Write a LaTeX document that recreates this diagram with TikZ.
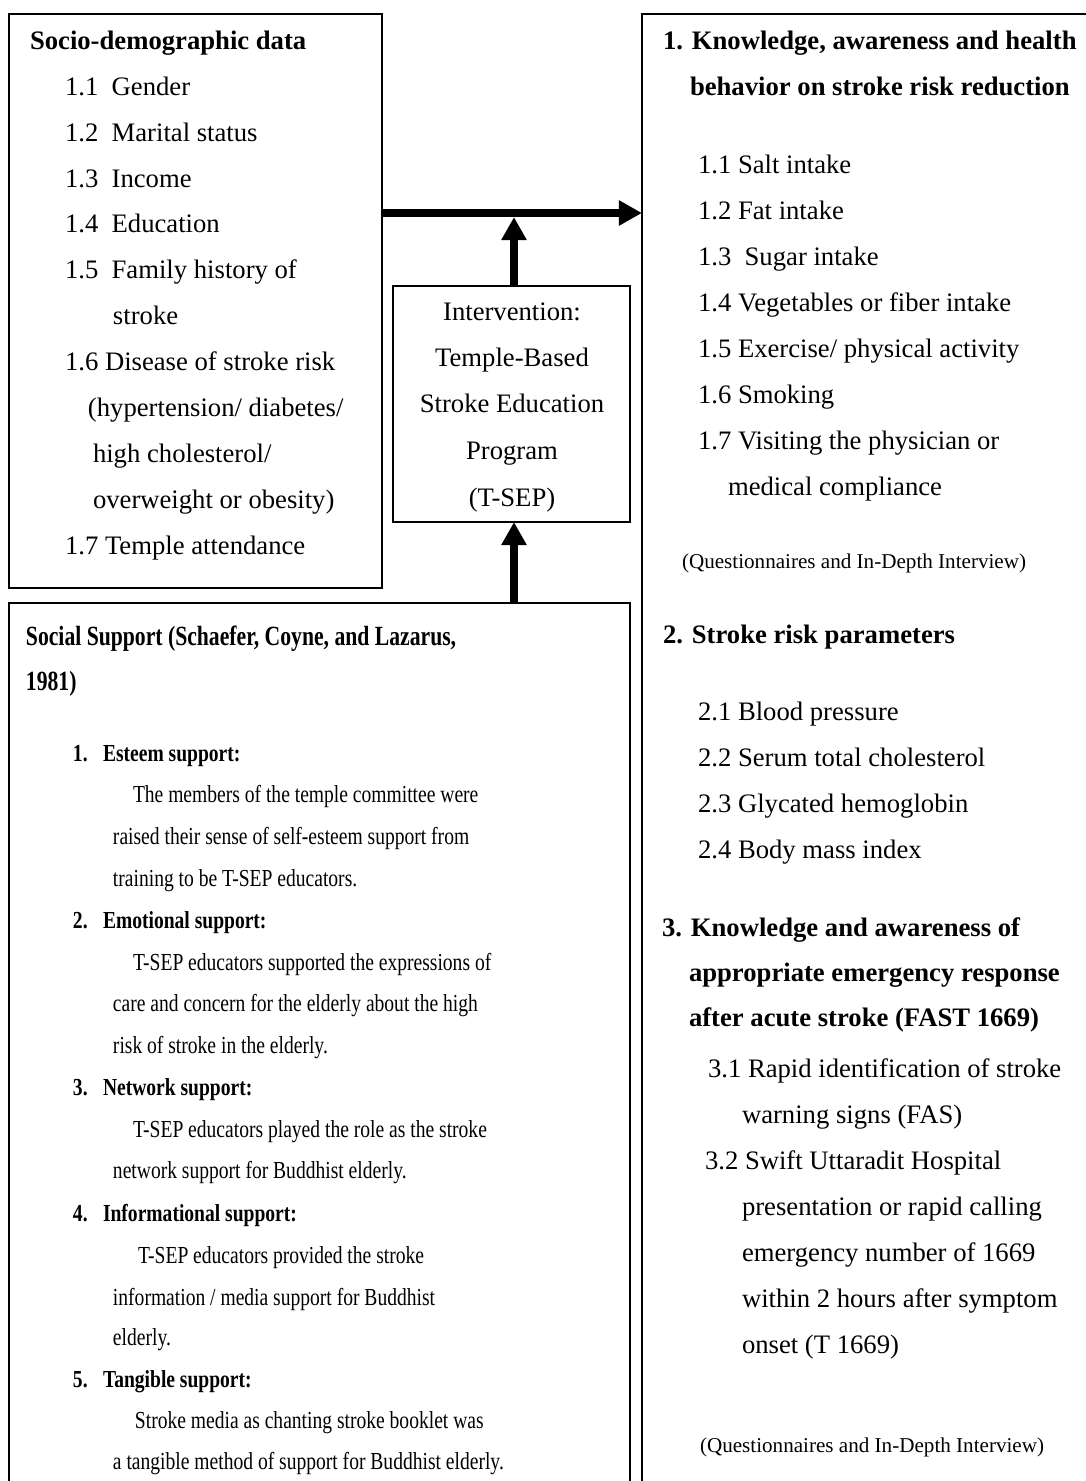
\documentclass[tikz,border=0pt]{standalone}
\usepackage{fontspec}
\setmainfont{Liberation Serif}
\newfontfamily\condf[FakeStretch=0.8]{Liberation Serif}
\newfontfamily\condh[FakeStretch=0.78]{Liberation Serif}
\usetikzlibrary{arrows.meta}
\begin{document}
\begin{tikzpicture}[x=0.45pt, y=-0.45pt,
  tx/.style={anchor=base west, inner sep=0pt, outer sep=0pt, font=\fontsize{12}{14.4}\selectfont},
  txb/.style={tx, font=\fontsize{12}{14.4}\selectfont\bfseries},
  ctr/.style={anchor=base, inner sep=0pt, outer sep=0pt, font=\fontsize{12}{14.4}\selectfont},
  qx/.style={tx, font=\fontsize{9.5}{11}\selectfont},
  sx/.style={tx, font=\fontsize{11}{13}\selectfont\condf},
  sxb/.style={tx, font=\fontsize{11}{13}\selectfont\condf\bfseries},
  sxh/.style={tx, font=\fontsize{12.5}{15}\selectfont\condh\bfseries},
  box/.style={draw, line width=1pt, inner sep=0pt, outer sep=0pt, anchor=north west},
  arr/.style={line width=3.2pt, -{Triangle[length=10.4pt, width=10.8pt]}}
]
\useasboundingbox (0,0) rectangle (1086,1481);
\clip (0,0) rectangle (1086,1481);

% boxes
\node[box, minimum width=167.85pt, minimum height=258.3pt] (demo) at (9,14) {};
\node[box, line width=1.2pt, minimum width=225pt, minimum height=675pt] (outc) at (642,14) {};
\node[box, minimum width=106.65pt, minimum height=106.2pt] (interv) at (393,286) {};
\node[box, minimum width=279.45pt, minimum height=427.5pt] (social) at (9,603) {};

% connectors
\coordinate (hy) at (0,213);
\coordinate (hyb) at (0,217);
\coordinate (ax) at (514,0);
\draw[arr] (demo.east |- hy) -- (outc.west |- hy);
\draw[arr] (interv.north -| ax) -- (ax |- hyb);
\draw[arr] (social.north -| ax) -- (interv.south -| ax);

% socio-demographic box
\node[txb] (d0) at (30,49) {Socio-demographic data};
\node[tx] (d1) at (65,95) {1.1\ \ Gender};
\node[tx] (d2) at (65,141) {1.2\ \ Marital status};
\node[tx] (d3) at (65,187) {1.3\ \ Income};
\node[tx] (d4) at (65,232) {1.4\ \ Education};
\node[tx] (d5) at (65,278) {1.5\ \ Family history of};
\node[tx] (d6) at (113,324) {stroke};
\node[tx] (d7) at (65,370) {1.6 Disease of stroke risk};
\node[tx] (d8) at (88,416) {(hypertension/ diabetes/};
\node[tx] (d9) at (93,462) {high cholesterol/};
\node[tx] (d10) at (93,508) {overweight or obesity)};
\node[tx] (d11) at (65,554) {1.7 Temple attendance};

% intervention box
\node[ctr] (i1) at (512,320) {Intervention:};
\node[ctr] (i2) at (512,366) {Temple-Based};
\node[ctr] (i3) at (512,412) {Stroke Education};
\node[ctr] (i4) at (512,459) {Program};
\node[ctr] (i5) at (512,506) {(T-SEP)};

% outcomes box
\node[txb] (r0) at (663,49) {1. Knowledge, awareness and health};
\node[txb] (r0b) at (690,95) {behavior on stroke risk reduction};
\node[tx] (r1) at (698,173) {1.1 Salt intake};
\node[tx] (r2) at (698,219) {1.2 Fat intake};
\node[tx] (r3) at (698,265) {1.3\ \ Sugar intake};
\node[tx] (r4) at (698,311) {1.4 Vegetables or fiber intake};
\node[tx] (r5) at (698,357) {1.5 Exercise/ physical activity};
\node[tx] (r6) at (698,403) {1.6 Smoking};
\node[tx] (r7) at (698,449) {1.7 Visiting the physician or};
\node[tx] (r8) at (728,495) {medical compliance};
\node[qx] (rq1) at (682,568) {(Questionnaires and In-Depth Interview)};
\node[txb] (r9) at (663,643) {2. Stroke risk parameters};
\node[tx] (r10) at (698,720) {2.1 Blood pressure};
\node[tx] (r11) at (698,766) {2.2 Serum total cholesterol};
\node[tx] (r12) at (698,812) {2.3 Glycated hemoglobin};
\node[tx] (r13) at (698,858) {2.4 Body mass index};
\node[txb] (r14) at (662,936) {3. Knowledge and awareness of};
\node[txb] (r15) at (689,981) {appropriate emergency response};
\node[txb] (r16) at (689,1026) {after acute stroke (FAST 1669)};
\node[tx] (r17) at (708,1077) {3.1 Rapid identification of stroke};
\node[tx] (r18) at (742,1123) {warning signs (FAS)};
\node[tx] (r19) at (705,1169) {3.2 Swift Uttaradit Hospital};
\node[tx] (r20) at (742,1215) {presentation or rapid calling};
\node[tx] (r21) at (742,1261) {emergency number of 1669};
\node[tx] (r22) at (742,1307) {within 2 hours after symptom};
\node[tx] (r23) at (742,1353) {onset (T 1669)};
\node[qx] (rq2) at (700,1452) {(Questionnaires and In-Depth Interview)};

% social support box
\node[sxh] (s0) at (26,645) {Social Support (Schaefer, Coyne, and Lazarus,};
\node[sxh] (s1) at (26,690) {1981)};
\node[sxb] (s2n) at (73,761) {1.};
\node[sxb] (s2) at (103,761) {Esteem support:};
\node[sx] (s3) at (133,802) {The members of the temple committee were};
\node[sx] (s4) at (113,844) {raised their sense of self-esteem support from};
\node[sx] (s5) at (113,886) {training to be T-SEP educators.};
\node[sxb] (s6n) at (73,928) {2.};
\node[sxb] (s6) at (103,928) {Emotional support:};
\node[sx] (s7) at (133,970) {T-SEP educators supported the expressions of};
\node[sx] (s8) at (113,1011) {care and concern for the elderly about the high};
\node[sx] (s9) at (113,1053) {risk of stroke in the elderly.};
\node[sxb] (s10n) at (73,1095) {3.};
\node[sxb] (s10) at (103,1095) {Network support:};
\node[sx] (s11) at (133,1137) {T-SEP educators played the role as the stroke};
\node[sx] (s12) at (113,1178) {network support for Buddhist elderly.};
\node[sxb] (s13n) at (73,1221) {4.};
\node[sxb] (s13) at (103,1221) {Informational support:};
\node[sx] (s14) at (138,1263) {T-SEP educators provided the stroke};
\node[sx] (s15) at (113,1305) {information / media support for Buddhist};
\node[sx] (s16) at (113,1345) {elderly.};
\node[sxb] (s17n) at (73,1387) {5.};
\node[sxb] (s17) at (103,1387) {Tangible support:};
\node[sx] (s18) at (135,1428) {Stroke media as chanting stroke booklet was};
\node[sx] (s19) at (113,1469) {a tangible method of support for Buddhist elderly.};
\end{tikzpicture}
\end{document}
